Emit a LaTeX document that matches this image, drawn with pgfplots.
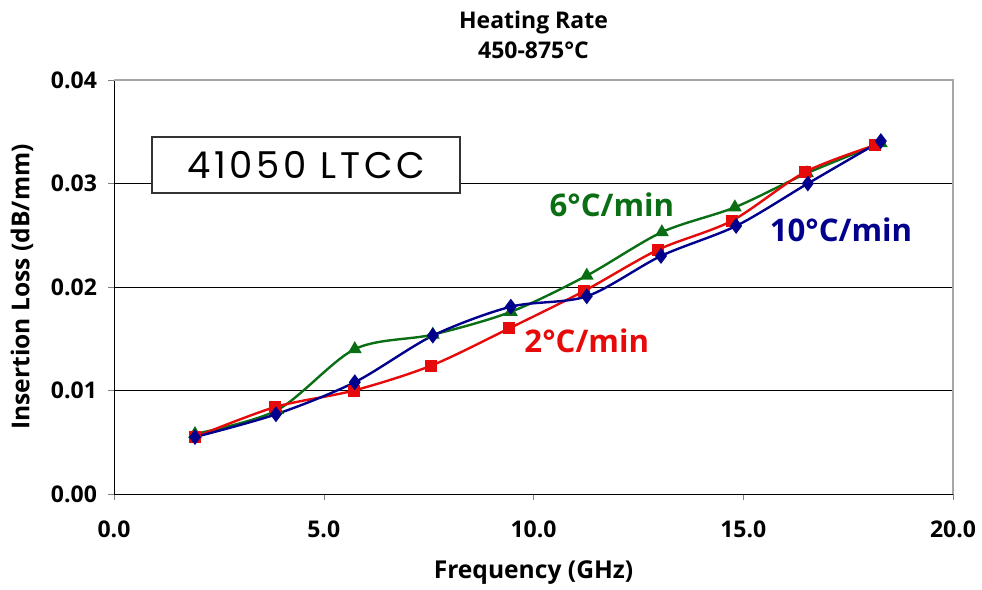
\documentclass[border=0pt]{standalone}
\usepackage{pgfplots}
\pgfplotsset{compat=1.18}
\usepackage{fontspec}
\setmainfont{Open Sans}
\newfontfamily\boxfont[LetterSpace=10]{Poppins}
\definecolor{cblue}{RGB}{0,0,140}
\definecolor{cred}{RGB}{230,10,10}
\definecolor{cgreen}{RGB}{10,110,20}
\begin{document}
\begin{tikzpicture}
\useasboundingbox (-57pt,-48pt) rectangle (434pt,247pt);
\begin{axis}[
  scale only axis, width=419.5pt, height=207pt,
  xmin=0, xmax=20, ymin=0, ymax=0.04,
  axis lines=left, axis line style={black, -},
  xtick={0,5,10,15,20}, ytick={0,0.01,0.02,0.03,0.04},
  xticklabel style={/pgf/number format/fixed, /pgf/number format/fixed zerofill, /pgf/number format/precision=1, yshift=-7pt},
  yticklabel style={/pgf/number format/fixed, /pgf/number format/fixed zerofill, /pgf/number format/precision=2, xshift=-2pt},
  /pgf/number format/assume math mode=true,
  tick label style={font=\bfseries\fontsize{11.5}{13}\selectfont},
  tick align=outside, major tick length=3pt,
  scaled y ticks=false,
  ymajorgrids, grid style={black, line width=0.5pt},
  xlabel={Frequency (GHz)}, ylabel={Insertion Loss (dB/mm)},
  label style={font=\bfseries\fontsize{12.3}{14}\selectfont},
  xlabel style={at={(rel axis cs:0.5,0)}, anchor=center, yshift=-39.5pt},
  ylabel style={at={(rel axis cs:0,0.5)}, anchor=center, rotate=0, yshift=46pt},
  clip=false,
]
\draw[gray!70, line width=0.8pt] (rel axis cs:0,1) -- (rel axis cs:1,1) -- (rel axis cs:1,0);
\addplot[cgreen, line width=1.2pt, smooth, tension=0.5, mark=triangle*, mark size=2.8pt, mark options={solid}] coordinates {
(1.93,0.0058) (3.89,0.0081) (5.74,0.0140) (7.60,0.0154) (9.46,0.0176) (11.27,0.0211) (13.06,0.0253) (14.80,0.0277) (16.52,0.0310) (18.28,0.0339)};
\addplot[cred, line width=1.2pt, smooth, tension=0.5, mark=square*, mark size=2.4pt] coordinates {
(1.93,0.0055) (3.84,0.0084) (5.72,0.0100) (7.56,0.0124) (9.42,0.0160) (11.20,0.0196) (12.97,0.0236) (14.73,0.0264) (16.47,0.0311) (18.14,0.0337)};
\addplot[cblue, line width=1.2pt, smooth, tension=0.5, mark=diamond*, mark size=3pt] coordinates {
(1.93,0.0055) (3.86,0.0077) (5.74,0.0108) (7.60,0.0153) (9.46,0.0181) (11.27,0.0191) (13.04,0.0230) (14.83,0.0259) (16.54,0.0300) (18.28,0.0341)};
\draw[black!80, line width=0.6pt, fill=white] (axis cs:0.906,0.02908) rectangle (axis cs:8.25,0.03449);
\node[font=\boxfont\fontsize{18.5}{20}\selectfont] at (axis cs:4.58,0.03178) {41050 LTCC};
\node[cgreen, font=\bfseries\fontsize{15.6}{18}\selectfont] at (axis cs:11.87,0.0279) {6°C/min};
\node[cred, font=\bfseries\fontsize{15.6}{18}\selectfont] at (axis cs:11.27,0.0148) {2°C/min};
\node[cblue, font=\bfseries\fontsize{15.6}{18}\selectfont] at (axis cs:17.33,0.0255) {10°C/min};
\node[font=\bfseries\fontsize{11.5}{15}\selectfont, align=center] at (rel axis cs:0.5,1) [yshift=22.5pt] {Heating Rate\\450-875°C};
\end{axis}
\end{tikzpicture}
\end{document}
